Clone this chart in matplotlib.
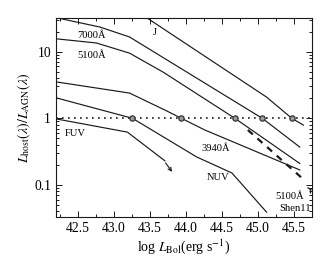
import matplotlib
matplotlib.use("Agg")
import matplotlib.pyplot as plt
from matplotlib.ticker import FixedLocator, FuncFormatter, MultipleLocator, LogLocator, NullFormatter

plt.rcParams['font.family'] = 'serif'
plt.rcParams['font.serif'] = ['Liberation Serif', 'DejaVu Serif']
plt.rcParams['mathtext.fontset'] = 'stix'

# ---- data ----
j_x = [43.40, 45.12, 45.47, 45.63]
j_y = [35.5, 2.08, 1.00, 0.79]

w7000_x = [42.20, 42.81, 43.22, 45.06, 45.58]
w7000_y = [32.4, 23.4, 16.6, 1.00, 0.37]

w5100_x = [42.20, 42.76, 43.22, 43.69, 44.68, 45.58]
w5100_y = [15.6, 13.5, 9.5, 4.9, 1.00, 0.21]

w3940_x = [42.20, 43.22, 43.71, 44.26, 45.58]
w3940_y = [3.52, 2.39, 1.33, 0.67, 0.168]

nuv_x = [42.20, 43.26, 44.15, 44.64, 45.12]
nuv_y = [2.03, 1.00, 0.263, 0.151, 0.039]

fuv_x = [42.20, 43.19, 43.71]
fuv_y = [0.98, 0.62, 0.23]
fuv_arrow_start = (43.72, 0.214)
fuv_arrow_end = (43.81, 0.157)

shen_x = [44.86, 45.61]
shen_y = [0.668, 0.127]

cross_x = [43.26, 43.93, 44.68, 45.06, 45.47]
cross_y = [1.0, 1.0, 1.0, 1.0, 1.0]

shen_mark = (45.72, 0.087)

xticks = [42.5, 43.0, 43.5, 44.0, 44.5, 45.0, 45.5]
yticks = [0.1, 1, 10]
ytick_labels = ['0.1', '1', '10']

# ---- figure ----
fig = plt.figure(figsize=(3.28, 2.63), dpi=100)
ax = fig.add_axes([56/328, 46/263, 256/328, 199/263])

lc = '#1a1a1a'
lw = 0.85
for xs, ys in [(j_x, j_y), (w7000_x, w7000_y), (w5100_x, w5100_y),
               (w3940_x, w3940_y), (nuv_x, nuv_y), (fuv_x, fuv_y)]:
    ax.plot(xs, ys, color=lc, lw=lw, solid_joinstyle='miter')

ax.plot(shen_x, shen_y, color=lc, lw=1.6, ls=(0, (3, 2.8)))
ax.plot([shen_mark[0]], [shen_mark[1]], marker='1', ms=6, color=lc, mew=0.9)

ax.annotate('', xy=fuv_arrow_end, xytext=fuv_arrow_start,
            arrowprops=dict(arrowstyle='->', color=lc, lw=0.8,
                            mutation_scale=6, shrinkA=0, shrinkB=0))

ax.axhline(1.0, color=lc, lw=1.2, ls=(0, (1, 2.6)))
ax.plot(cross_x, cross_y, ls='none', marker='o', ms=3.8, mfc='#9a9a9a',
        mec='#333333', mew=0.9)

ax.set_yscale('log')
ax.set_xlim(42.2, 45.75)
ax.set_ylim(0.033, 32)

ax.xaxis.set_major_locator(FixedLocator(xticks))
ax.xaxis.set_major_formatter(FuncFormatter(lambda v, p: f'{v:.1f}'))
ax.xaxis.set_minor_locator(MultipleLocator(0.25))
ax.yaxis.set_major_locator(FixedLocator(yticks))
ax.yaxis.set_major_formatter(FuncFormatter(
    lambda v, p: ytick_labels[yticks.index(v)] if v in yticks else ''))
ax.yaxis.set_minor_locator(LogLocator(base=10, subs=range(2, 10)))
ax.yaxis.set_minor_formatter(NullFormatter())

ax.tick_params(which='both', direction='in', top=True, right=True,
               labelsize=9.8, width=0.7, color=lc)
ax.tick_params(which='major', length=4.5)
ax.tick_params(which='minor', length=2.2)
for s in ax.spines.values():
    s.set_linewidth(0.8)
    s.set_color(lc)

ax.set_xlabel(r'log $L_{\rm Bol}$(erg s$^{-1}$)', fontsize=10, labelpad=2)
ax.set_ylabel(r'$L_{\rm host}(\lambda)/L_{\rm AGN}(\lambda)$', fontsize=10, labelpad=1)

fs = 7.6
ax.text(42.5, 17.7, '7000Å', fontsize=fs, va='center', ha='left')
ax.text(42.5, 8.9, '5100Å', fontsize=fs, va='center', ha='left')
ax.text(43.57, 19.7, 'J', fontsize=fs, va='center', ha='center')
ax.text(42.32, 0.59, 'FUV', fontsize=fs, va='center', ha='left')
ax.text(44.21, 0.347, '3940Å', fontsize=fs, va='center', ha='left')
ax.text(44.29, 0.129, 'NUV', fontsize=fs, va='center', ha='left')
ax.text(45.64, 0.068, '5100Å', fontsize=fs, va='center', ha='right')
ax.text(45.74, 0.0437, 'Shen11', fontsize=fs, va='center', ha='right')

fig.savefig('out.png', dpi=100)
